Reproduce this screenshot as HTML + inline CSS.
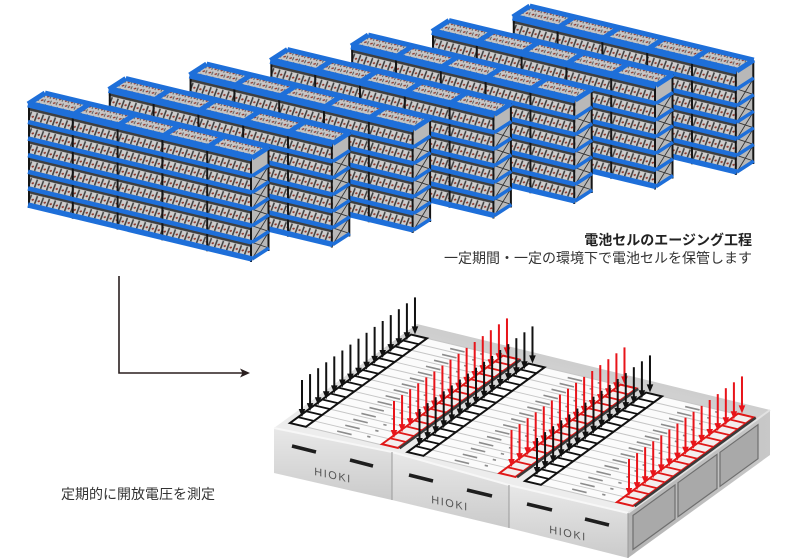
<!DOCTYPE html>
<html><head><meta charset="utf-8"><style>
html,body{margin:0;padding:0;background:#fff;}
svg{display:block;}
text{font-family:"Liberation Sans","Noto Sans CJK JP",sans-serif;}
</style></head><body>
<svg width="800" height="559" viewBox="0 0 800 559" xmlns="http://www.w3.org/2000/svg">
<defs>
 <pattern id="tray" patternUnits="userSpaceOnUse" width="6" height="16.6" y="18" patternTransform="skewY(13.55)">
  <rect width="6" height="16.6" fill="#3e3e3e"/>
  <rect y="4.8" width="6" height="9.6" fill="#cdcdcd"/>
  <line x1="0.5" y1="14" x2="3.5" y2="5.5" stroke="#3c3c3c" stroke-width="1.4"/>
  <line x1="3.8" y1="11" x2="5.8" y2="9.5" stroke="#8b3328" stroke-width="1.5"/>
 </pattern>
 <pattern id="tt" patternUnits="userSpaceOnUse" width="6" height="5" patternTransform="skewY(13.55)">
  <rect width="6" height="5" fill="#c6c6c6"/>
  <line x1="1" y1="3.5" x2="3.5" y2="2" stroke="#8b3328" stroke-width="1.1"/>
  <line x1="4" y1="4.5" x2="5.5" y2="1" stroke="#555" stroke-width="0.9"/>
 </pattern>
 <linearGradient id="topg" gradientUnits="userSpaceOnUse" x1="520" y1="340" x2="490" y2="470">
  <stop offset="0" stop-color="#cbcbcb"/><stop offset="1" stop-color="#ededed"/>
 </linearGradient>
 <linearGradient id="frontg" x1="0" y1="0" x2="0" y2="1">
  <stop offset="0" stop-color="#e8e8e8"/><stop offset="1" stop-color="#cbcbcb"/>
 </linearGradient>
 <linearGradient id="sideg" x1="0" y1="0" x2="1" y2="0">
  <stop offset="0" stop-color="#b4b4b4"/><stop offset="1" stop-color="#c8c8c8"/>
 </linearGradient>

 <g id="rack">
  <polygon points="224,54 241,43 241,146 224,157" fill="#b8b8b8"/>
  <path d="M224,72L241,77.6M241,61L224,88.6M224,88.6L241,94.2M241,77.6L224,105.2M224,105.2L241,110.8M241,94.2L224,121.8M224,121.8L241,127.4M241,110.8L224,138.4M224,138.4L241,144M241,127.4L224,155" stroke="#333" stroke-width="0.9" fill="none"/>
  <polygon points="0,0 224,54 241,43 17,-11" fill="url(#tt)"/>
  <polygon points="0,0 224,54 224,157 0,103" fill="url(#tray)"/>
  <path d="M1,0V104M44.8,10.8V114.8M89.6,21.6V125.6M134.4,32.4V136.4M179.2,43.2V147.2M223,54V158M240.5,43V147" stroke="#151515" stroke-width="2" fill="none"/>
  <g stroke="#1e6fd9" fill="none">
   <path d="M0,18L224,72M0,34.6L224,88.6M0,51.2L224,105.2M0,67.8L224,121.8M0,84.4L224,138.4" stroke-width="4.5"/>
   <path d="M0,101L224,155" stroke-width="5.5"/>
   <path d="M224,72L241,61M224,88.6L241,77.6M224,105.2L241,94.2M224,121.8L241,110.8M224,138.4L241,127.4M224,155L241,144" stroke-width="3.5"/>
   <path d="M17,-11L241,43" stroke-width="5"/>
   <path d="M0,0L17,-11M44.8,10.8L61.8,-0.2M89.6,21.6L106.6,10.6M134.4,32.4L151.4,21.4M179.2,43.2L196.2,32.2M224,54L241,43" stroke-width="5"/>
   <path d="M0,0L224,54" stroke-width="7"/>
  </g>
 </g>

 <g id="mod">
  <rect x="1" y="-0.5" width="9.4" height="15" fill="#fbfbfb"/>
  <path d="M1 -0.5H10.4M1 0.5H10.4M1 1.5H10.4M1 2.5H10.4M1 3.5H10.4M1 4.5H10.4M1 5.5H10.4M1 6.5H10.4M1 7.5H10.4M1 8.5H10.4M1 9.5H10.4M1 10.5H10.4M1 11.5H10.4M1 12.5H10.4M1 13.5H10.4M1 14.5H10.4" stroke="#c6c6c6" stroke-width="1" vector-effect="non-scaling-stroke" fill="none"/>
  <path d="M4.5 -0.1H6.3M8 0.15H8.4M4.5 0.9H6.3M8 1.15H8.4M4.5 1.9H6.3M8 2.15H8.4M4.5 2.9H6.3M8 3.15H8.4M4.5 3.9H6.3M8 4.15H8.4M4.5 4.9H6.3M8 5.15H8.4M4.5 5.9H6.3M8 6.15H8.4M4.5 6.9H6.3M8 7.15H8.4M4.5 7.9H6.3M8 8.15H8.4M4.5 8.9H6.3M8 9.15H8.4M4.5 9.9H6.3M8 10.15H8.4M4.5 10.9H6.3M8 11.15H8.4M4.5 11.9H6.3M8 12.15H8.4M4.5 12.9H6.3M8 13.15H8.4M4.5 13.9H6.3M8 14.15H8.4" stroke="#8c8c8c" stroke-width="1.6" vector-effect="non-scaling-stroke" fill="none"/>
  <rect x="-1" y="-0.5" width="2" height="15" fill="#fff" stroke="#111" stroke-width="2" vector-effect="non-scaling-stroke"/>
  <path d="M-1 0.5H1M-1 1.5H1M-1 2.5H1M-1 3.5H1M-1 4.5H1M-1 5.5H1M-1 6.5H1M-1 7.5H1M-1 8.5H1M-1 9.5H1M-1 10.5H1M-1 11.5H1M-1 12.5H1M-1 13.5H1" stroke="#111" stroke-width="1.8" vector-effect="non-scaling-stroke" fill="none"/>
  <rect x="10.4" y="-0.4" width="2" height="15" fill="#f3eeee" stroke="#e01818" stroke-width="2" vector-effect="non-scaling-stroke"/>
  <path d="M10.4 0.6H12.4M10.4 1.6H12.4M10.4 2.6H12.4M10.4 3.6H12.4M10.4 4.6H12.4M10.4 5.6H12.4M10.4 6.6H12.4M10.4 7.6H12.4M10.4 8.6H12.4M10.4 9.6H12.4M10.4 10.6H12.4M10.4 11.6H12.4M10.4 12.6H12.4M10.4 13.6H12.4" stroke="#e01818" stroke-width="1.8" vector-effect="non-scaling-stroke" fill="none"/>
  <path d="M12.6 -0.4V14.6" stroke="#3a3a3a" stroke-width="2.5" vector-effect="non-scaling-stroke"/>
 </g>

 <g id="a1" fill="currentColor"><rect x="-1" y="-37" width="2" height="30"/><polygon points="-3.3,-8 3.3,-8 0,0"/></g>
 <g id="arr">
  <use href="#a1" x="112.98" y="-82.6"/>
  <use href="#a1" x="104.91" y="-76.7"/>
  <use href="#a1" x="96.84" y="-70.8"/>
  <use href="#a1" x="88.77" y="-64.9"/>
  <use href="#a1" x="80.7" y="-59"/>
  <use href="#a1" x="72.63" y="-53.1"/>
  <use href="#a1" x="64.56" y="-47.2"/>
  <use href="#a1" x="56.49" y="-41.3"/>
  <use href="#a1" x="48.42" y="-35.4"/>
  <use href="#a1" x="40.35" y="-29.5"/>
  <use href="#a1" x="32.28" y="-23.6"/>
  <use href="#a1" x="24.21" y="-17.7"/>
  <use href="#a1" x="16.14" y="-11.8"/>
  <use href="#a1" x="8.07" y="-5.9"/>
  <use href="#a1" x="0" y="0"/>
 </g>
</defs>

<rect width="800" height="559" fill="#fff"/>

<!-- racks back to front -->
<use href="#rack" transform="translate(512.8,17)"/>
<use href="#rack" transform="translate(432,31.5)"/>
<use href="#rack" transform="translate(351.2,46)"/>
<use href="#rack" transform="translate(270.4,60.5)"/>
<use href="#rack" transform="translate(189.6,75)"/>
<use href="#rack" transform="translate(108.8,89.5)"/>
<use href="#rack" transform="translate(28,104)"/>

<!-- texts -->
<text x="752" y="245" text-anchor="end" font-weight="bold" font-size="14" fill="#222">電池セルのエージング工程</text>
<text x="752" y="263" text-anchor="end" font-size="14" fill="#333">一定期間・一定の環境下で電池セルを保管します</text>
<text x="61" y="499" font-size="14" fill="#333">定期的に開放電圧を測定</text>

<!-- connector -->
<path d="M119,276V373H243" stroke="#2a1f1f" stroke-width="1.6" fill="none"/>
<polygon points="240,368.5 250,373 240,377.5 242.5,373" fill="#2a1f1f"/>

<!-- device -->
<polygon points="274,428 392,452 509,485 628,513 770,410 417,324" fill="url(#topg)"/>
<polygon points="628,513 770,410 770,455 628,558" fill="url(#sideg)"/>
<g fill="#a9a9a9" stroke="#6f6f6f" stroke-width="1.2">
 <polygon points="633,515.4 675,484.9 675,518.9 633,549.4"/>
 <polygon points="678,482.7 717,454.4 717,488.4 678,516.7"/>
 <polygon points="720,452.3 758,424.7 758,458.7 720,486.3"/>
</g>
<path d="M628,513L770,410" stroke="#e2e2e2" stroke-width="2"/>
<polygon points="274,428 392,452 392,500 274,473" fill="url(#frontg)"/>
<polygon points="392,452 509,485 509,528 392,500" fill="url(#frontg)"/>
<polygon points="509,485 628,513 628,558 509,528" fill="url(#frontg)"/>
<polyline points="274,428 392,452 509,485 628,513" fill="none" stroke="#f7f7f7" stroke-width="2"/>
<path d="M392,452V500M509,485V528M628,513V558" stroke="#9a9a9a" stroke-width="1"/>
<g stroke="#1e1e1e" stroke-width="3.5">
 <path d="M292,446L316,452M350,460L373,466"/>
 <path d="M409,475L433,481M467,490L492,496"/>
 <path d="M527,504L552,510M585,519L609,525"/>
</g>
<g font-size="11" fill="#555" letter-spacing="1.5" text-anchor="middle">
 <text transform="translate(333,475) skewY(12)" y="4">HIOKI</text>
 <text transform="translate(450,503) skewY(12)" y="4">HIOKI</text>
 <text transform="translate(568,533) skewY(12)" y="4">HIOKI</text>
</g>

<!-- module tops -->
<use href="#mod" transform="matrix(8,1.9,8.07,-5.9,302,422)"/>
<use href="#mod" transform="matrix(8,1.9,8.07,-5.9,419.5,451)"/>
<use href="#mod" transform="matrix(8,1.9,8.07,-5.9,537,480)"/>

<!-- probe arrows -->
<use href="#arr" x="302" y="417" style="color:#111"/>
<use href="#arr" x="394" y="438" style="color:#e8141a"/>
<use href="#arr" x="419.5" y="446" style="color:#111"/>
<use href="#arr" x="511.5" y="467" style="color:#e8141a"/>
<use href="#arr" x="537" y="475" style="color:#111"/>
<use href="#arr" x="629" y="496" style="color:#e8141a"/>
</svg>
</body></html>
